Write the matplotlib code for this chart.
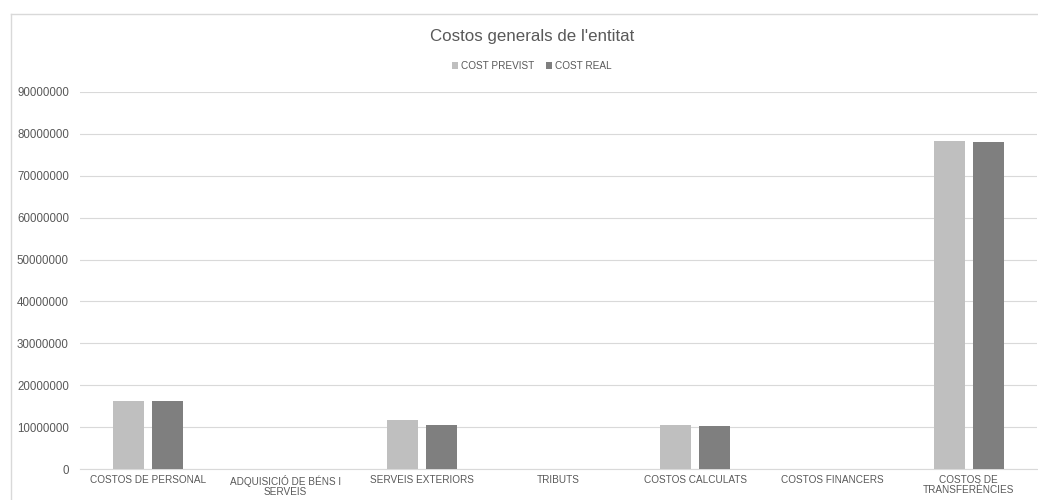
import numpy as np
import matplotlib.pyplot as plt
from matplotlib.lines import Line2D

plt.rcParams['font.family'] = ['Liberation Sans', 'DejaVu Sans']

categories = ["COSTOS DE PERSONAL", "ADQUISICIÓ DE BÉNS I\nSERVEIS", "SERVEIS EXTERIORS",
              "TRIBUTS", "COSTOS CALCULATS", "COSTOS FINANCERS", "COSTOS DE\nTRANSFERÈNCIES"]
cost_previst = [16300000, 0, 11600000, 0, 10400000, 0, 78300000]
cost_real = [16300000, 0, 10600000, 0, 10300000, 0, 78000000]
yticks = np.arange(0, 90000001, 10000000)

W, H = 1038, 500
fig = plt.figure(figsize=(W / 100, H / 100), dpi=100)
# chart border (cropped on the right and bottom)
fig.lines.append(Line2D([10.5 / W, 1.0], [1 - 13.5 / H] * 2, transform=fig.transFigure,
                        color='#d9d9d9', linewidth=1))
fig.lines.append(Line2D([10.5 / W] * 2, [0.0, 1 - 13.5 / H], transform=fig.transFigure,
                        color='#d9d9d9', linewidth=1))

ax = fig.add_axes([80 / W, 1 - 469 / H, 957 / W, (469 - 92) / H])

x = np.arange(len(categories))
w = 0.227
ax.bar(x - 0.143, cost_previst, w, color='#bfbfbf', label='COST PREVIST', zorder=3)
ax.bar(x + 0.143, cost_real, w, color='#7f7f7f', label='COST REAL', zorder=3)

ax.set_xlim(-0.5, len(categories) - 0.5)
ax.set_ylim(0, 90000000)
ax.set_yticks(yticks)
ax.set_yticklabels([str(v) for v in yticks])
ax.set_xticks(x)
ax.set_xticklabels(categories, linespacing=1.0)
ax.tick_params(axis='both', length=0, colors='#595959')
ax.tick_params(axis='y', pad=8, labelsize=8.3)
ax.tick_params(axis='x', pad=4, labelsize=7.2)
ax.grid(axis='y', color='#d9d9d9', linewidth=0.8, zorder=0)
for s in ['top', 'right', 'left']:
    ax.spines[s].set_visible(False)
ax.spines['bottom'].set_color('#d9d9d9')

fig.text(532 / W, 1 - 37 / H, "Costos generals de l'entitat", ha='center', va='center',
         fontsize=12.2, color='#595959')
fig.legend(loc='center', bbox_to_anchor=(532 / W, 1 - 66 / H), ncol=2, frameon=False,
           fontsize=7.2, handlelength=0.6, handleheight=0.6, handletextpad=0.3,
           columnspacing=1.2, labelcolor='#595959')

fig.savefig('out.png')
